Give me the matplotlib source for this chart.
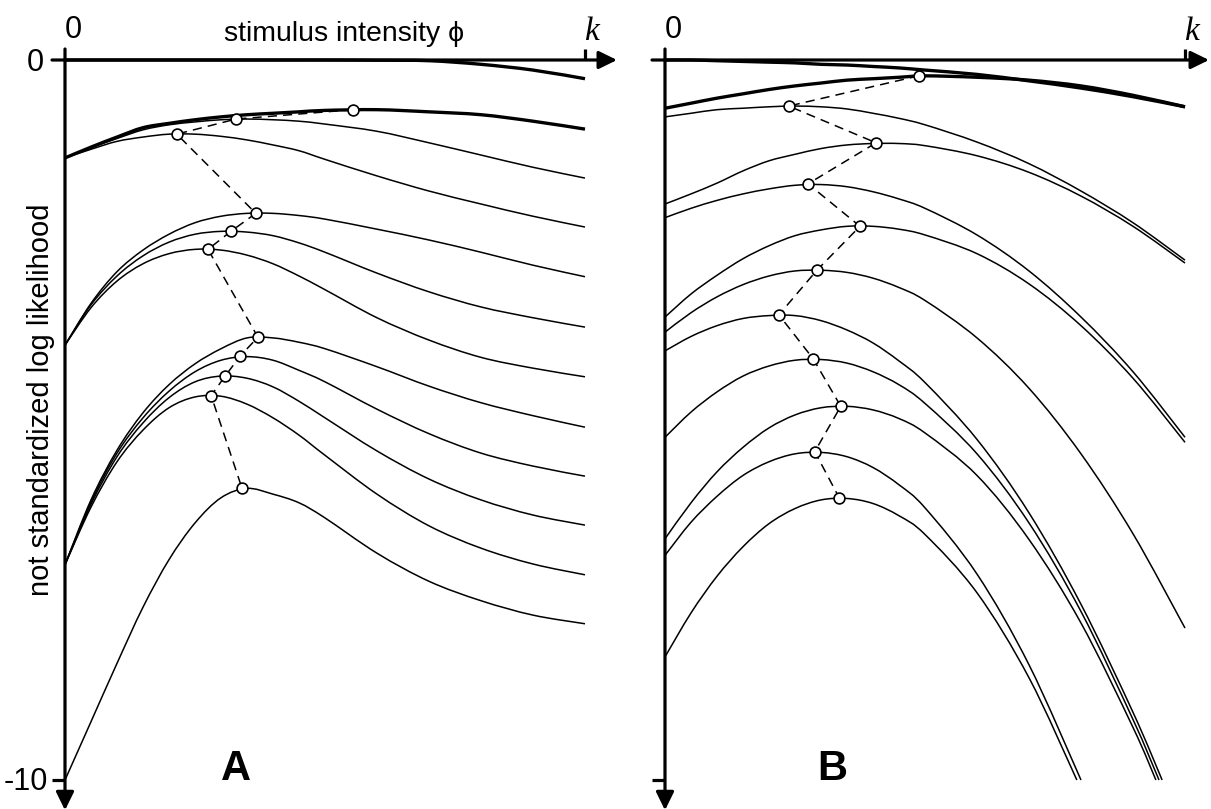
import matplotlib.pyplot as plt
from matplotlib.path import Path
from matplotlib.patches import PathPatch

plt.rcParams['font.family'] = ['Liberation Sans', 'DejaVu Sans']

# stimulus intensity as a fraction of k, where the curves were read
phi = [0, .05, .1, .15, .2, .25, .3, .35, .4, .45, .5, .6, .7, .8, .9, 1.0]

# panel A: not standardized log likelihood, top curve first
loglik_a = [
    [0, 0, 0, 0, 0, 0, 0, 0, 0, 0, 0, -0.003, -0.01, -0.06, -0.14, -0.26],
    [-1.36, -1.21, -1.07, -0.94, -0.88, -0.83, -0.79, -0.76, -0.74, -0.72, -0.70, -0.69, -0.72, -0.76, -0.85, -0.96],
    [-1.36, -1.22, -1.09, -0.97, -0.90, -0.86, -0.83, -0.82, -0.83, -0.85, -0.89, -0.99, -1.15, -1.32, -1.49, -1.64],
    [-1.36, -1.24, -1.13, -1.07, -1.03, -1.03, -1.06, -1.11, -1.18, -1.26, -1.38, -1.61, -1.82, -2.00, -2.17, -2.32],
    [-3.96, -3.38, -2.94, -2.64, -2.42, -2.26, -2.17, -2.13, -2.13, -2.16, -2.21, -2.35, -2.50, -2.67, -2.85, -3.01],
    [-3.96, -3.40, -3.00, -2.72, -2.53, -2.42, -2.38, -2.39, -2.44, -2.54, -2.67, -2.96, -3.22, -3.43, -3.58, -3.71],
    [-3.96, -3.44, -3.07, -2.83, -2.69, -2.63, -2.64, -2.71, -2.83, -3.00, -3.19, -3.58, -3.89, -4.13, -4.28, -4.40],
    [-7.01, -6.11, -5.42, -4.90, -4.51, -4.22, -4.01, -3.86, -3.86, -3.92, -4.01, -4.26, -4.53, -4.76, -4.94, -5.10],
    [-7.01, -6.14, -5.46, -4.97, -4.60, -4.33, -4.17, -4.12, -4.17, -4.31, -4.47, -4.85, -5.19, -5.46, -5.64, -5.78],
    [-7.01, -6.17, -5.51, -5.04, -4.69, -4.47, -4.39, -4.42, -4.54, -4.74, -4.97, -5.43, -5.82, -6.11, -6.32, -6.46],
    [-7.01, -6.21, -5.58, -5.14, -4.83, -4.68, -4.67, -4.78, -4.97, -5.21, -5.49, -6.03, -6.47, -6.78, -7.00, -7.15],
    [-10.0, -9.19, -8.38, -7.60, -6.94, -6.43, -6.08, -5.95, -6.03, -6.15, -6.36, -6.85, -7.24, -7.51, -7.71, -7.83],
]
peak_phi_a = [0.554, 0.329, 0.215, 0.367, 0.319, 0.275, 0.371, 0.337, 0.308, 0.281, 0.340]
peak_ll_a = [-0.69, -0.82, -1.03, -2.13, -2.38, -2.63, -3.85, -4.11, -4.39, -4.66, -5.94]

# panel B, same grid; short lists leave the frame at -10 (exit_phi_b)
loglik_b = [
    [0, 0, -0.01, -0.02, -0.03, -0.04, -0.06, -0.07, -0.09, -0.11, -0.14, -0.20, -0.29, -0.39, -0.51, -0.65],
    [-0.67, -0.60, -0.53, -0.47, -0.41, -0.36, -0.32, -0.28, -0.26, -0.24, -0.22, -0.24, -0.28, -0.36, -0.49, -0.65],
    [-0.79, -0.74, -0.69, -0.67, -0.65, -0.64, -0.65, -0.68, -0.74, -0.81, -0.90, -1.14, -1.44, -1.82, -2.26, -2.78],
    [-2.00, -1.86, -1.71, -1.54, -1.40, -1.31, -1.23, -1.18, -1.16, -1.16, -1.19, -1.33, -1.56, -1.89, -2.31, -2.82],
    [-2.19, -2.06, -1.95, -1.86, -1.79, -1.74, -1.73, -1.76, -1.83, -1.93, -2.06, -2.43, -2.93, -3.57, -4.33, -5.24],
    [-3.57, -3.25, -2.99, -2.76, -2.58, -2.44, -2.36, -2.31, -2.31, -2.35, -2.43, -2.69, -3.11, -3.69, -4.42, -5.31],
    [-3.78, -3.51, -3.29, -3.12, -3.00, -2.93, -2.92, -2.95, -3.03, -3.16, -3.34, -3.86, -4.56, -5.47, -6.58, -7.89],
    [-4.04, -3.84, -3.69, -3.59, -3.55, -3.55, -3.62, -3.75, -3.93, -4.18, -4.48, -5.27, -6.29, -7.56, -9.06],
    [-5.24, -4.89, -4.61, -4.39, -4.25, -4.17, -4.16, -4.21, -4.33, -4.51, -4.77, -5.47, -6.43, -7.66, -9.16],
    [-6.65, -6.15, -5.72, -5.38, -5.11, -4.93, -4.83, -4.81, -4.86, -4.98, -5.18, -5.77, -6.66, -7.82, -9.27],
    [-6.88, -6.42, -6.06, -5.77, -5.58, -5.47, -5.45, -5.51, -5.66, -5.90, -6.22, -7.14, -8.40],
    [-8.29, -7.68, -7.17, -6.76, -6.44, -6.23, -6.11, -6.09, -6.16, -6.33, -6.59, -7.40, -8.58],
]
exit_phi_b = [None] * 7 + [0.956, 0.950, 0.944, 0.800, 0.792]
peak_phi_b = [0.488, 0.238, 0.406, 0.275, 0.375, 0.292, 0.219, 0.285, 0.338, 0.288, 0.335]
peak_ll_b = [-0.22, -0.64, -1.15, -1.72, -2.31, -2.92, -3.54, -4.15, -4.81, -5.44, -6.08]

heavy = [0, 1]  # the two upper curves are drawn bold in both panels

W, H = 1211, 809
fig = plt.figure(figsize=(W / 100, H / 100), dpi=100)
fig.patch.set_facecolor('white')

# one data unit: 520 px along phi, 72 px along log likelihood
PX = 1 / 520
PY = 1 / 72


def smooth(xs, ys):
    # bezier path through every read point (catmull-rom tangents)
    pts = list(zip(xs, ys))
    n = len(pts)
    verts = [pts[0]]
    codes = [Path.MOVETO]
    for i in range(n - 1):
        p0 = pts[max(i - 1, 0)]
        p1 = pts[i]
        p2 = pts[i + 1]
        p3 = pts[min(i + 2, n - 1)]
        c1 = (p1[0] + (p2[0] - p0[0]) / 6, p1[1] + (p2[1] - p0[1]) / 6)
        c2 = (p2[0] - (p3[0] - p1[0]) / 6, p2[1] - (p3[1] - p1[1]) / 6)
        verts += [c1, c2, p2]
        codes += [Path.CURVE4] * 3
    return Path(verts, codes)


def frame(ax, tip_x, letter, letter_x):
    ax.set_xlim(0, 1)
    ax.set_ylim(-10, 0)
    ax.axis('off')
    arrow = dict(arrowstyle='-|>,head_length=0.55,head_width=0.27', lw=2.3,
                 color='black', shrinkA=0, shrinkB=0, mutation_scale=20)
    ax.annotate('', xy=(tip_x, 0), xytext=(-13 * PX, 0), arrowprops=arrow,
                annotation_clip=False)
    ax.annotate('', xy=(0, -10.42), xytext=(0, 11 * PY), arrowprops=arrow,
                annotation_clip=False)
    # tick at k and at -10
    ax.plot([1, 1], [0, 11 * PY], color='black', lw=2.3, clip_on=False,
            solid_capstyle='butt')
    ax.plot([-13 * PX, 0], [-10, -10], color='black', lw=2.3, clip_on=False,
            solid_capstyle='butt')
    ax.text(8 * PX, 22 * PY, '0', fontsize=22, ha='center', va='baseline')
    ax.text(1 + 6 * PX, 20 * PY, 'k', fontsize=24, ha='center', va='baseline',
            family='Liberation Serif', style='italic')
    ax.text(letter_x, -9.85, letter, fontsize=30, fontweight='bold',
            ha='center', va='center')


def curves(ax, data, exits, pk_x, pk_y):
    for i, ys in enumerate(data):
        xs = phi[:len(ys)]
        ys = list(ys)
        if exits is not None and exits[i] is not None:
            xs = xs + [exits[i]]
            ys = ys + [-10]
        lw = 2.4 if i in heavy else 1.1
        ax.add_patch(PathPatch(smooth(xs, ys), fill=False, ec='black', lw=lw,
                               clip_on=False, zorder=2, joinstyle='round'))
    ax.plot(pk_x, pk_y, color='black', lw=1.1, ls=(0, (6, 4)), zorder=3,
            clip_on=False)
    ax.plot(pk_x, pk_y, ls='none', marker='o', ms=7.8, mfc='white',
            mec='black', mew=1.2, zorder=4, clip_on=False)


ax_a = fig.add_axes([65 / W, 29 / H, 520 / W, 720 / H])
frame(ax_a, (617 - 65) * PX, 'A', (236 - 65) * PX)
curves(ax_a, loglik_a, None, peak_phi_a, peak_ll_a)
ax_a.text(0.537, 19 * PY, 'stimulus intensity ϕ', fontsize=20.5,
          ha='center', va='baseline', family=['Liberation Sans', 'DejaVu Sans'])
ax_a.text(-21 * PX, -0.04, '0', fontsize=22, ha='right', va='center')
ax_a.text(-17 * PX, -10.03, '-10', fontsize=22, ha='right', va='center')
ax_a.text(-24 * PX, -4.72, 'not standardized log likelihood', fontsize=21,
          rotation=90, ha='center', va='center')

ax_b = fig.add_axes([665 / W, 29 / H, 520 / W, 720 / H])
frame(ax_b, (1209 - 665) * PX, 'B', (832 - 665) * PX)
curves(ax_b, loglik_b, exit_phi_b, peak_phi_b, peak_ll_b)

fig.savefig('out.png', dpi=100, facecolor='white')
